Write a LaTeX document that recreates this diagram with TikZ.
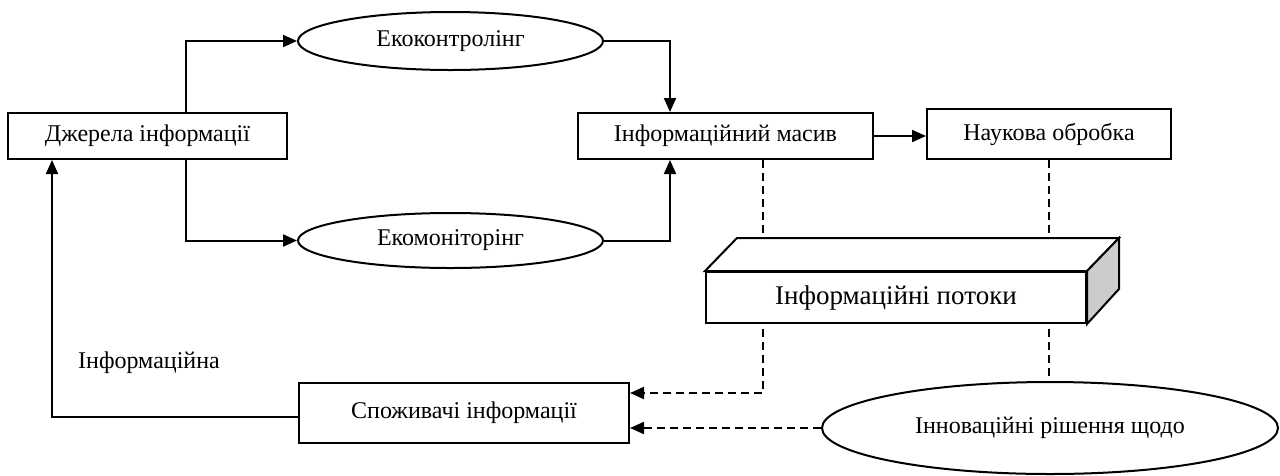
\documentclass[tikz,border=0pt]{standalone}
\usepackage{fontspec}
\setmainfont{Liberation Serif}
\usetikzlibrary{shapes.geometric,arrows.meta,calc}
\begin{document}
\begin{tikzpicture}[x=1pt,y=-1pt,
  every node/.style={font=\fontsize{24}{28}\selectfont, inner sep=0pt},
  box/.style={draw, line width=2pt, rectangle, fill=white},
  oval/.style={draw, line width=2pt, ellipse, fill=white},
  conn/.style={line width=2pt, -{Triangle[length=14pt,width=12pt]}},
  dconn/.style={line width=2pt, dash pattern=on 8pt off 5pt, -{Triangle[length=14pt,width=12pt]}},
  dline/.style={line width=2pt, dash pattern=on 8pt off 5pt},
  cube/.style={draw, line width=2pt, line join=miter}
]
\useasboundingbox (0,0) rectangle (1280,475);

\node[box, minimum width=279pt, minimum height=46pt] (src) at (147.5,136) {Джерела інформації};
\node[oval, minimum width=305pt, minimum height=58pt] (ctrl) at (450.5,41) {Екоконтролінг};
\node[oval, minimum width=305pt, minimum height=55pt] (mon) at (450.5,240.5) {Екомоніторінг};
\node[box, minimum width=295pt, minimum height=46pt] (mas) at (725.5,136) {Інформаційний масив};
\node[box, minimum width=244pt, minimum height=50pt] (sci) at (1049,134) {Наукова обробка};
\node[box, minimum width=330pt, minimum height=60pt] (cons) at (464,413) {Споживачі інформації};
\node (lbl) at (149,363) {Інформаційна};

% dashed connectors (drawn before the cuboid so it covers them)
\draw[dconn] ([xshift=37pt]mas.south) |- ([yshift=20pt]cons.east);
\draw[dline] (sci.south) -- (1049,382);

% cuboid
\node[box, minimum width=380pt, minimum height=51pt, font=\fontsize{27}{32}\selectfont] (flow) at (896,297.5) {Інформаційні потоки};
\filldraw[cube, fill=white] (flow.north west) -- ++(32,-33) -- ($(flow.north east)+(32,-33)$) -- (flow.north east) -- cycle;
\filldraw[cube, fill=black!20] (flow.north east) -- ++(32,-33) -- ++(0,51) -- (flow.south east) -- cycle;

\node[oval, minimum width=456pt, minimum height=92pt] (inn) at (1050,428) {\raisebox{5pt}{Інноваційні рішення щодо}};

% solid connectors
\draw[conn] ([xshift=38pt]src.north) |- (ctrl.west);
\draw[conn] ([xshift=38pt]src.south) |- (mon.west);
\draw[conn] (ctrl.east) -| ([xshift=-55.5pt]mas.north);
\draw[conn] (mon.east) -| ([xshift=-55.5pt]mas.south);
\draw[conn] (mas.east) -- (mas.east -| sci.west);
\draw[conn] ([yshift=-4pt]cons.west) -| ([xshift=-95.5pt]src.south);
\draw[dconn] (inn.west) -- (inn.west -| cons.east);
\end{tikzpicture}
\end{document}
